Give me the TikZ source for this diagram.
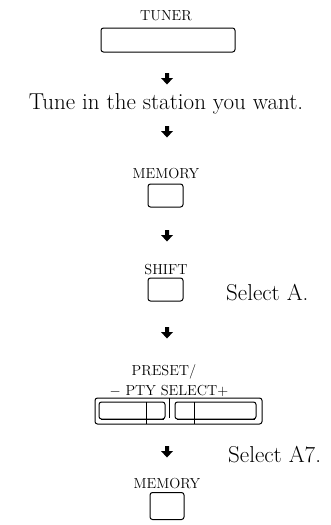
\documentclass[tikz,border=0pt]{standalone}
\usepackage{tikz}
\usetikzlibrary{positioning}

\begin{document}
\begin{tikzpicture}[x=1pt,y=-1pt,
  lbl/.style={font=\fontsize{14.5}{16}\selectfont,inner sep=0pt,anchor=base},
  say/.style={font=\fontsize{23}{27}\selectfont,inner sep=0pt,anchor=base},
  btn/.style={draw,line width=1pt,rounded corners=2.5pt,inner sep=0pt}]
  \useasboundingbox (0,0) rectangle (331,525);
  % keys with their captions
  \node[btn,minimum width=134pt,minimum height=24pt] (tuner) at (168,40) {};
  \node[lbl] (tunerlbl) at (166,20) {TUNER};
  \node[say] (tune) at (166,109) {Tune in the station you want.};
  \node[btn,minimum width=35pt,minimum height=23pt] (mem) at (165.5,195.5) {};
  \node[lbl] (memlbl) at (166,178) {MEMORY};
  \node[btn,minimum width=35pt,minimum height=23pt] (shift) at (165.5,289.5) {};
  \node[lbl] (shiftlbl) at (166,274) {SHIFT};
  \node[say,anchor=base west] (selA) at (226,300) {Select A.};
  % preset / pty select rocker
  \node[lbl] (prelbl) at (164,375) {PRESET/};
  \node[lbl] (ptylbl) at (169,395) {$-$ PTY SELECT$+$};
  \node[btn,minimum width=167pt,minimum height=26pt] (frame) at (178.5,411) {};
  \node[btn,minimum width=66pt,minimum height=17pt] (minus) at (132,410.5) {};
  \node[btn,minimum width=81pt,minimum height=17pt] (plus) at (215.5,410.5) {};
  \draw[line width=1.6pt] ([xshift=2pt]minus.south west) -- ([xshift=-2pt]minus.south east);
  \draw[line width=1.6pt] ([xshift=2pt]plus.south west) -- ([xshift=-2pt]plus.south east);
  \draw[line width=1pt] (146,402) -- (146,424) (194,402) -- (194,424);
  \draw[line width=1pt] (169,398) -- (169,418);
  \node[say,anchor=base west] (selA7) at (228,462) {Select A7.};
  \node[btn,minimum width=34pt,minimum height=27pt] (mem2) at (167,506) {};
  \node[lbl] (mem2lbl) at (167,488) {MEMORY};
  % step arrows
  \foreach \n/\y in {a1/73,a2/126,a3/230,a4/327,a5/446} {
    \coordinate (\n) at (167,\y);
    \fill (\n) ++(-2,0) -- ++(0,5) -- ++(-4,0) -- ++(6,6.5) -- ++(6,-6.5)
      -- ++(-4,0) -- ++(0,-5) -- cycle;
  }
\end{tikzpicture}
\end{document}
